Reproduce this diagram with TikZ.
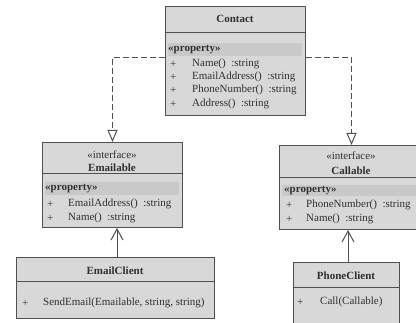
\documentclass[tikz,border=0pt]{standalone}
\usepackage{fontspec}
\setmainfont{Liberation Serif}
\usetikzlibrary{arrows.meta}
\definecolor{boxfill}{HTML}{D8D8D8}
\definecolor{bandfill}{HTML}{C9C9C9}
\definecolor{boxline}{HTML}{505050}
\definecolor{txt}{HTML}{303030}
\tikzset{
  classbox/.style={draw=boxline, fill=boxfill, line width=1pt, anchor=north west, inner sep=0pt},
  member/.style={anchor=west, inner sep=0pt, text=txt, font=\fontsize{11}{13}\selectfont},
  stereo/.style={member, font=\fontsize{11}{13}\selectfont\bfseries},
  classname/.style={inner sep=0pt, text=txt, font=\fontsize{11}{13}\selectfont\bfseries},
  classtag/.style={inner sep=0pt, text=txt, font=\fontsize{11}{13}\selectfont},
  sepline/.style={draw=boxline, line width=1pt},
  realize/.style={draw=boxline, line width=1pt, dash pattern=on 6pt off 3pt,
    -{Triangle[open, length=12pt, width=10pt]}},
  uses/.style={draw=boxline, line width=1pt, -{Straight Barb[length=11pt, width=12pt]}},
}

\begin{document}
\begin{tikzpicture}[x=1pt, y=-1pt]
\clip (0,0) rectangle (416,323);
\fill[white] (0,0) rectangle (416,323);

% Contact
\node[classbox, minimum width=140pt, minimum height=109pt] (contact) at (165,6) {};
\fill[bandfill] (168,43) rectangle (302,56);
\draw[sepline] (contact.west |- 0,33) -- (contact.east |- 0,33);
\node[classname] (contactname) at (235,19) {Contact};
\node[stereo] (contactstereo) at (168,50) {«property»};
\node[member] (contactp1) at (170,64) {+};
\node[member] (contactm1) at (192,64) {Name()~ :string};
\node[member] (contactp2) at (170,77) {+};
\node[member] (contactm2) at (192,77) {EmailAddress()~ :string};
\node[member] (contactp3) at (170,90) {+};
\node[member] (contactm3) at (192,90) {PhoneNumber()~ :string};
\node[member] (contactp4) at (170,104) {+};
\node[member] (contactm4) at (192,104) {Address()~ :string};

% Emailable
\node[classbox, minimum width=140pt, minimum height=85pt] (emailable) at (42,142) {};
\fill[bandfill] (45,182) rectangle (179,195);
\draw[sepline] (emailable.west |- 0,174) -- (emailable.east |- 0,174);
\node[classtag] (emailabletag) at (112,155) {«interface»};
\node[classname] (emailablename) at (112,168) {Emailable};
\node[stereo] (emailablestereo) at (45,189) {«property»};
\node[member] (emailablep1) at (47,204) {+};
\node[member] (emailablem1) at (68,204) {EmailAddress()~ :string};
\node[member] (emailablep2) at (47,218) {+};
\node[member] (emailablem2) at (68,218) {Name()~ :string};

% Callable
\node[classbox, minimum width=144pt, minimum height=84pt] (callable) at (279,145) {};
\fill[bandfill] (282,185) rectangle (420,196);
\draw[sepline] (callable.west |- 0,178) -- (callable.east |- 0,178);
\node[classtag] (callabletag) at (351,156) {«interface»};
\node[classname] (callablename) at (351,171) {Callable};
\node[stereo] (callablestereo) at (284,191) {«property»};
\node[member] (callablep1) at (286,205) {+};
\node[member] (callablem1) at (306,205) {PhoneNumber()~ :string};
\node[member] (callablep2) at (286,219) {+};
\node[member] (callablem2) at (306,219) {Name()~ :string};

% EmailClient
\node[classbox, minimum width=198pt, minimum height=61pt] (emailclient) at (16,257) {};
\draw[sepline] (emailclient.west |- 0,282) -- (emailclient.east |- 0,282);
\node[classname] (emailclientname) at (115,271) {EmailClient};
\node[member] (emailclientp1) at (22,303) {+};
\node[member] (emailclientm1) at (43,303) {SendEmail(Emailable, string, string)};

% PhoneClient
\node[classbox, minimum width=106pt, minimum height=70pt] (phoneclient) at (293,262) {};
\draw[sepline] (phoneclient.west |- 0,288) -- (phoneclient.east |- 0,288);
\node[classname] (phoneclientname) at (346,276) {PhoneClient};
\node[member] (phoneclientp1) at (297,302) {+};
\node[member] (phoneclientm1) at (320,302) {Call(Callable)};

% connectors
\coordinate (emailarrow) at (117,0);
\coordinate (phonearrow) at (348,0);
\draw[realize] (contact.west |- 0,58) -| (emailable.north);
\draw[realize] (contact.east |- 0,58) -| (callable.north);
\draw[uses] (emailclient.north -| emailarrow) -- (emailable.south -| emailarrow);
\draw[uses] (phoneclient.north -| phonearrow) -- (callable.south -| phonearrow);
\end{tikzpicture}
\end{document}
